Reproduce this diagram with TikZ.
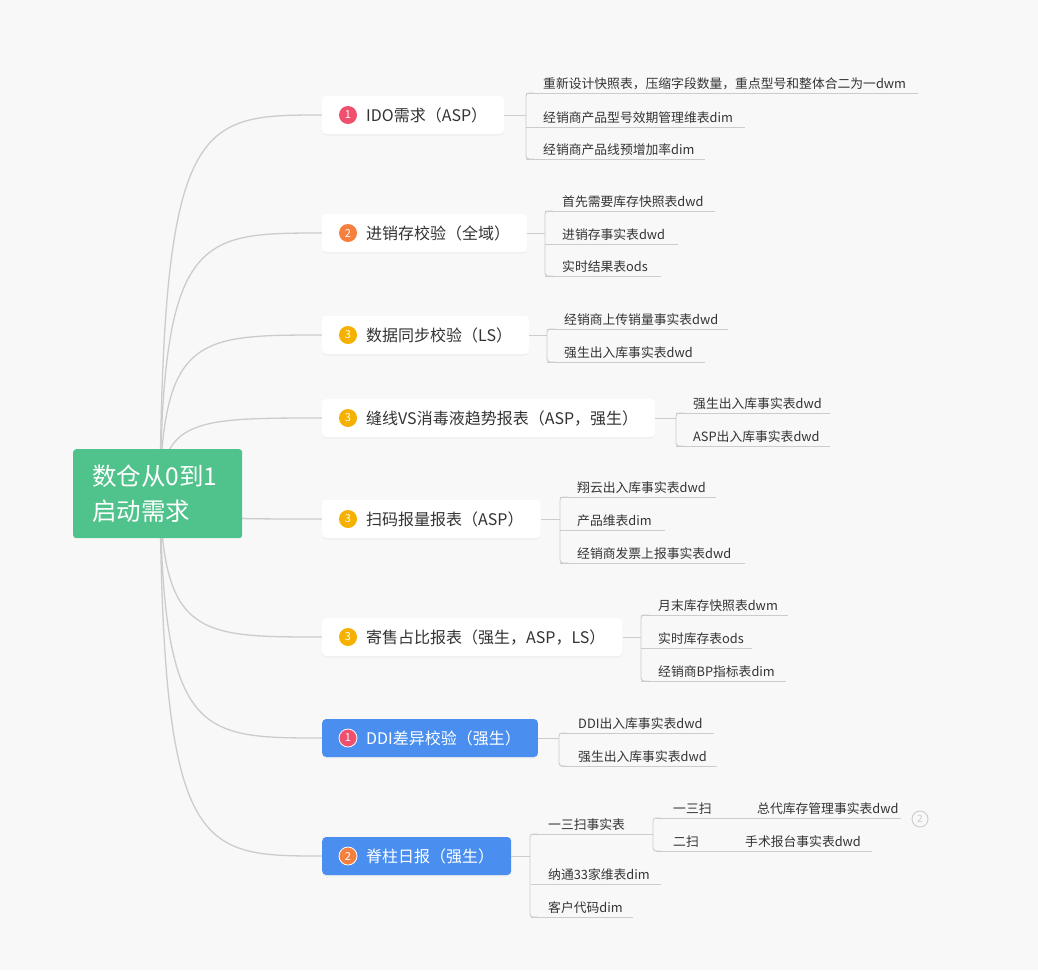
\documentclass[tikz,border=0pt]{standalone}
\usepackage{fontspec}
\setmainfont{Noto Sans CJK SC}
\usetikzlibrary{shadows}
\definecolor{bg}{HTML}{F8F8F8}
\definecolor{ln}{HTML}{CCCCCC}
\definecolor{tx}{HTML}{333333}
\definecolor{rootc}{HTML}{50C28B}
\definecolor{bluec}{HTML}{4A8FF0}
\definecolor{b1}{HTML}{F0506E}
\definecolor{b2}{HTML}{F5803E}
\definecolor{b3}{HTML}{F6B100}
\tikzset{
  lnk/.style={draw=ln,line width=1.3pt},
  thin/.style={draw=ln,line width=0.9pt},
  br/.style={rectangle,rounded corners=4pt,fill=white,minimum height=38pt,inner xsep=17pt,anchor=west,text=tx,font=\fontsize{16}{18}\selectfont,drop shadow={opacity=0.07,shadow xshift=0pt,shadow yshift=-1.5pt}},
  brb/.style={br,fill=bluec,text=white},
  badge/.style={circle,minimum size=18pt,inner sep=0pt,text=white,font=\fontsize{11}{12}\selectfont},
  leaf/.style={anchor=base west,inner sep=0pt,text=tx,font=\fontsize{12.8}{14}\selectfont},
}
\newcommand\lf[5]{\node[leaf] (#1) at (#2,#3-5) {#5}; \draw[thin] (#2-17,#3) -- (#4,#3);}
\newcommand\bk[4]{\draw[thin,rounded corners=3pt] (#1+8,#2) -- (#1,#2) -- (#1,#3) -- (#1+8,#3); \coordinate (bx#4) at (#1,0); \draw[thin] (#4.east) -- (#4.east -| bx#4);}
\begin{document}
\begin{tikzpicture}[x=1pt,y=-1pt]
\fill[bg] (0,0) rectangle (1038,970);
\useasboundingbox (0,0) rectangle (1038,970);
\coordinate (s) at (160,493);
\foreach \yy in {115,233,335,418,519,637,738,856}{
  \draw[lnk] (s) .. controls (163,\yy) and (200,\yy) .. (323,\yy);
}
\node[rectangle,rounded corners=3pt,fill=rootc,minimum width=169pt,minimum height=89pt,anchor=north west,inner sep=0pt] (root) at (73,449) {};
\node[anchor=west,text=white,align=left,inner sep=0pt,font=\fontsize{24.5}{35}\selectfont] (roott) at (92,494) {数仓从0到1\\启动需求};
% branches
\node[br] (n1) at (322,115) {\hspace{27pt}IDO需求（ASP）};
\node[br] (n2) at (322,233) {\hspace{27pt}进销存校验（全域）};
\node[br] (n3) at (322,335) {\hspace{27pt}数据同步校验（LS）};
\node[br] (n4) at (322,418) {\hspace{27pt}缝线VS消毒液趋势报表（ASP，强生）};
\node[br] (n5) at (322,519) {\hspace{27pt}扫码报量报表（ASP）};
\node[br] (n6) at (322,637) {\hspace{27pt}寄售占比报表（强生，ASP，LS）};
\node[brb] (n7) at (322,738) {\hspace{27pt}DDI差异校验（强生）};
\node[brb] (n8) at (322,856) {\hspace{27pt}脊柱日报（强生）};
\node[badge,fill=b1] (g1) at (348,115) {1};
\node[badge,fill=b2] (g2) at (348,233) {2};
\node[badge,fill=b3] (g3) at (348,335) {3};
\node[badge,fill=b3] (g4) at (348,418) {3};
\node[badge,fill=b3] (g5) at (348,519) {3};
\node[badge,fill=b3] (g6) at (348,637) {3};
\node[badge,fill=b1,draw=white,line width=0.8pt] (g7) at (348,738) {1};
\node[badge,fill=b2,draw=white,line width=0.8pt] (g8) at (348,856) {2};
% leaves
\bk{526}{93}{159}{n1}
\lf{a1}{543}{93}{918}{重新设计快照表，压缩字段数量，重点型号和整体合二为一dwm}
\lf{a2}{543}{127}{745}{经销商产品型号效期管理维表dim}
\lf{a3}{543}{159}{705}{经销商产品线预增加率dim}
\bk{545}{211}{276}{n2}
\lf{b1n}{562}{211}{715}{首先需要库存快照表dwd}
\lf{b2n}{562}{244}{678}{进销存事实表dwd}
\lf{b3n}{562}{276}{661}{实时结果表ods}
\bk{547}{329}{362}{n3}
\lf{c1}{564}{329}{728}{经销商上传销量事实表dwd}
\lf{c2}{564}{362}{705}{强生出入库事实表dwd}
\bk{676}{413}{446}{n4}
\lf{d1}{693}{413}{830}{强生出入库事实表dwd}
\lf{d2}{693}{446}{830}{ASP出入库事实表dwd}
\bk{560}{497}{563}{n5}
\lf{e1}{577}{497}{716}{翔云出入库事实表dwd}
\lf{e2}{577}{530}{665}{产品维表dim}
\lf{e3}{577}{563}{745}{经销商发票上报事实表dwd}
\bk{641}{615}{681}{n6}
\lf{f1}{658}{615}{788}{月末库存快照表dwm}
\lf{f2}{658}{648}{752}{实时库存表ods}
\lf{f3}{658}{681}{786}{经销商BP指标表dim}
\bk{559}{733}{766}{n7}
\lf{h1}{578}{733}{714}{DDI出入库事实表dwd}
\lf{h2}{578}{766}{717}{强生出入库事实表dwd}
\bk{530}{834}{917}{n8}
\lf{i1}{548}{834}{653}{一三扫事实表}
\lf{i2}{548}{884}{661}{纳通33家维表dim}
\lf{i3}{548}{917}{633}{客户代码dim}
\draw[thin,rounded corners=3pt] (661,818) -- (653,818) -- (653,851) -- (661,851);
\lf{j1}{673}{818}{901}{一三扫}
\lf{j2}{673}{851}{872}{二扫}
\node[leaf] (k1) at (757,813) {总代库存管理事实表dwd};
\node[leaf] (k2) at (745,846) {手术报台事实表dwd};
\node[circle,draw=ln,line width=0.9pt,minimum size=16pt,inner sep=0pt,text=ln,font=\fontsize{10}{11}\selectfont] (cc) at (920,819) {2};
\end{tikzpicture}
\end{document}
